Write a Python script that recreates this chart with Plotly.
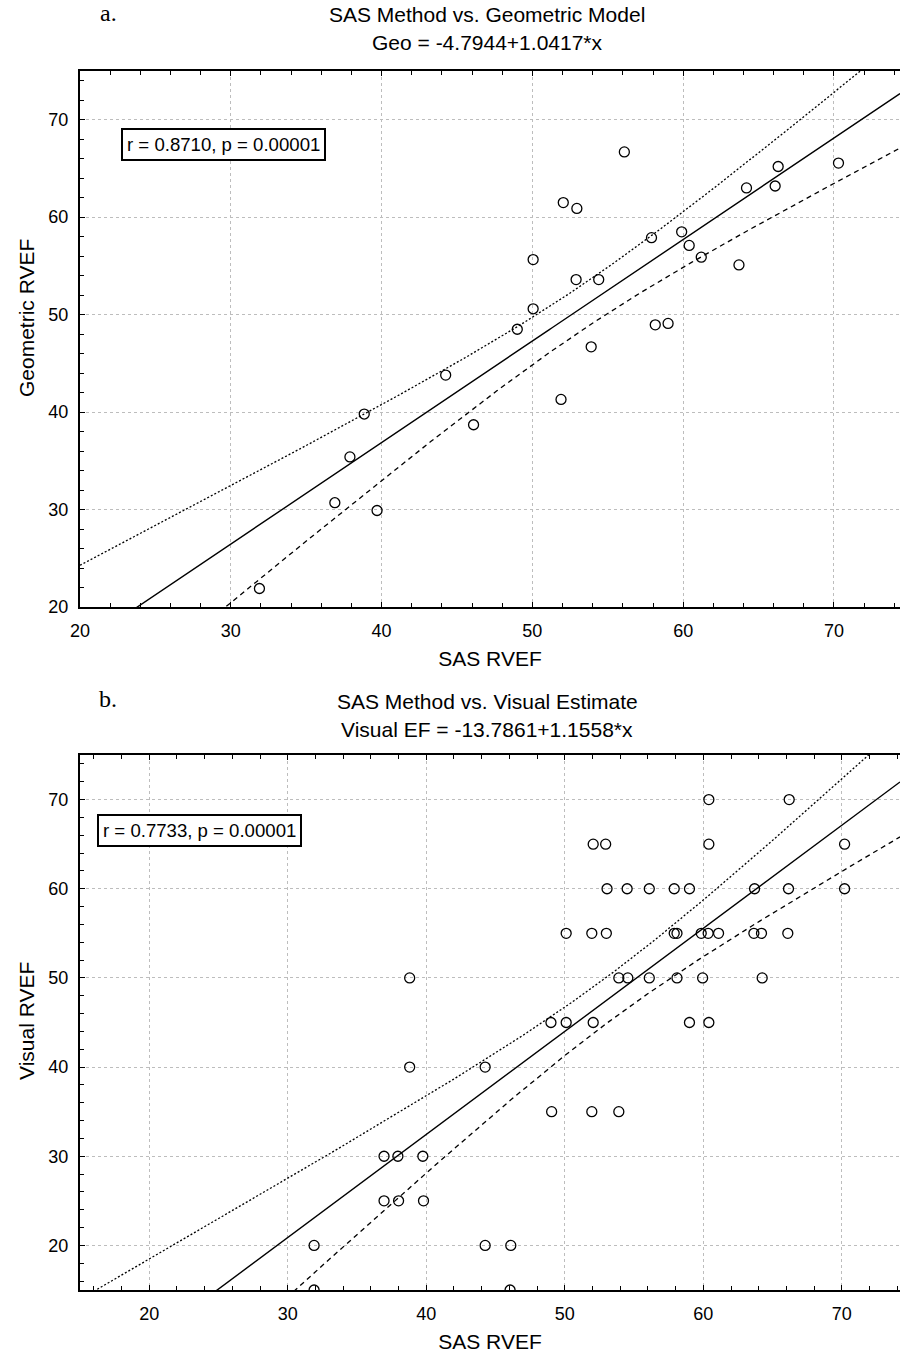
import numpy as np
import plotly.graph_objects as go

# ---- Panel a: SAS method vs. geometric model (RVEF, %) ----
sas_a = [31.9, 36.9, 37.9, 38.85, 39.7, 44.25, 46.1, 49.0, 50.05, 50.05,
         51.9, 52.05, 52.95, 52.9, 53.9, 54.4, 56.1, 57.9, 58.15, 59.0,
         59.9, 60.4, 61.2, 63.7, 64.2, 66.1, 66.3, 70.3]
geo_a = [21.9, 30.7, 35.4, 39.8, 29.9, 43.8, 38.7, 48.5, 50.6, 55.65,
         41.3, 61.5, 60.9, 53.6, 46.7, 53.6, 66.7, 57.9, 48.95, 49.1,
         58.5, 57.1, 55.9, 55.1, 63.0, 63.2, 65.2, 65.55]

# ---- Panel b: SAS method vs. visual estimate (RVEF, %) ----
sas_b = [60.4, 66.2,
         52.05, 52.95, 60.4, 70.2,
         53.05, 54.5, 56.1, 57.9, 59.0, 63.7, 66.15, 70.2,
         50.1, 51.95, 53.0, 57.9, 58.1, 59.85, 60.35, 61.1, 63.65, 64.2, 66.1,
         38.8, 53.9, 54.55, 56.1, 58.1, 59.95, 64.25,
         49.0, 50.1, 52.05, 59.0, 60.4,
         38.8, 44.25,
         49.05, 51.95, 53.9,
         36.95, 37.95, 39.75,
         36.95, 38.0, 39.8,
         31.9, 44.25, 46.1,
         31.9, 46.05]
vis_b = [70, 70,
         65, 65, 65, 65,
         60, 60, 60, 60, 60, 60, 60, 60,
         55, 55, 55, 55, 55, 55, 55, 55, 55, 55, 55,
         50, 50, 50, 50, 50, 50, 50,
         45, 45, 45, 45, 45,
         40, 40,
         35, 35, 35,
         30, 30, 30,
         25, 25, 25,
         20, 20, 20,
         15, 15]

# Reported regression coefficients (intercept, slope) and correlations
fit_a = (-4.7944, 1.0417)
fit_b = (-13.7861, 1.1558)
stat_a = "r = 0.8710, p = 0.00001"
stat_b = "r = 0.7733, p = 0.00001"

title_a = ("SAS Method vs. Geometric Model", "Geo = -4.7944+1.0417*x")
title_b = ("SAS Method vs. Visual Estimate", "Visual EF = -13.7861+1.1558*x")
ytitle_a = "Geometric RVEF"
ytitle_b = "Visual RVEF"
xtitle = "SAS RVEF"

range_a = dict(x=[20, 74.38], y=[20, 75])
range_b = dict(x=[15, 74.2], y=[15, 75])

W, H = 900, 1357


def t975(df):
    """Two-sided 95% Student t quantile (Cornish-Fisher expansion)."""
    z = 1.959964
    return (z + (z**3 + z) / (4 * df)
            + (5 * z**5 + 16 * z**3 + 3 * z) / (96 * df**2))


def conf_band(x, y, b0, b1, grid):
    """Fitted line and 95% confidence band of the mean response."""
    x = np.asarray(x, float)
    y = np.asarray(y, float)
    n = len(x)
    resid = y - (b0 + b1 * x)
    s = np.sqrt(np.sum(resid**2) / (n - 2))
    xbar = x.mean()
    sxx = np.sum((x - xbar) ** 2)
    fit = b0 + b1 * grid
    hw = t975(n - 2) * s * np.sqrt(1.0 / n + (grid - xbar) ** 2 / sxx)
    return fit, fit + hw, fit - hw


def px_y(py):
    return 1 - py / H


fig = go.Figure()

panels = [
    ("x", "y", sas_a, geo_a, fit_a, range_a),
    ("x2", "y2", sas_b, vis_b, fit_b, range_b),
]
for xa, ya, xs, ys, (b0, b1), rng in panels:
    grid = np.linspace(rng["x"][0], rng["x"][1], 300)
    fit, upper, lower = conf_band(xs, ys, b0, b1, grid)
    fig.add_trace(go.Scatter(x=grid, y=upper, mode="lines", xaxis=xa, yaxis=ya,
                             line=dict(color="black", width=1.3, dash="2px,2px")))
    fig.add_trace(go.Scatter(x=grid, y=lower, mode="lines", xaxis=xa, yaxis=ya,
                             line=dict(color="black", width=1.3, dash="5px,4px")))
    fig.add_trace(go.Scatter(x=grid, y=fit, mode="lines", xaxis=xa, yaxis=ya,
                             line=dict(color="black", width=1.4)))
    fig.add_trace(go.Scatter(x=xs, y=ys, mode="markers", xaxis=xa, yaxis=ya,
                             marker=dict(symbol="circle-open", size=10,
                                         color="black", line=dict(width=1.3))))

x_dom = [80 / W, 1.0]
dom_a = [px_y(607), px_y(71)]
dom_b = [px_y(1290), px_y(755)]


def axis(rng, dom, anchor, title=None):
    d = dict(
        range=rng, domain=dom, anchor=anchor,
        showline=True, linecolor="black", linewidth=2,
        ticks="inside", ticklen=5, tickwidth=1.3, tickcolor="black",
        tick0=0, dtick=10,
        minor=dict(dtick=2, ticks="inside", ticklen=4, tickwidth=1.2,
                   tickcolor="black", showgrid=False),
        showgrid=True, gridcolor="#bdbdbd", gridwidth=1, griddash="dot",
        zeroline=False, automargin=False,
        tickfont=dict(size=18, color="black"),
        ticklabelstandoff=6,
    )
    if title is not None:
        d["mirror"] = "ticks"
        d["title"] = dict(text=title, font=dict(size=21, color="black"), standoff=12)
    return d


fig.update_layout(
    width=W, height=H,
    margin=dict(l=0, r=0, t=0, b=0),
    paper_bgcolor="white", plot_bgcolor="white",
    showlegend=False,
    font=dict(family="Liberation Sans, Arial, sans-serif", color="black", size=18),
    xaxis=axis(range_a["x"], x_dom, "y", xtitle),
    yaxis=axis(range_a["y"], dom_a, "x"),
    xaxis2=axis(range_b["x"], x_dom, "y2", xtitle),
    yaxis2=axis(range_b["y"], dom_b, "x2"),
)

annotations = []
for (t1, t2), letter, y1, y2 in [(title_a, "a.", 15, 43), (title_b, "b.", 701, 729)]:
    annotations.append(dict(text=t1, x=487 / W, y=px_y(y1), xref="paper", yref="paper",
                            xanchor="center", yanchor="middle", showarrow=False,
                            font=dict(size=21)))
    annotations.append(dict(text=t2, x=487 / W, y=px_y(y2), xref="paper", yref="paper",
                            xanchor="center", yanchor="middle", showarrow=False,
                            font=dict(size=21)))
    annotations.append(dict(text=letter, x=108 / W, y=px_y(y1 - 2), xref="paper", yref="paper",
                            xanchor="center", yanchor="middle", showarrow=False,
                            font=dict(size=24, family="Liberation Serif, Times New Roman, serif")))

# Vertical axis titles
for text, yc in [(ytitle_a, 318), (ytitle_b, 1021)]:
    annotations.append(dict(text=text, x=26 / W, y=px_y(yc), xref="paper", yref="paper",
                            xanchor="center", yanchor="middle", showarrow=False,
                            textangle=-90, font=dict(size=21)))

for stat, xd, yd, xr, yr in [(stat_a, 0.05, 0.894, "x domain", "y domain"),
                             (stat_b, 0.0207, 0.8897, "x2 domain", "y2 domain")]:
    annotations.append(dict(text=stat, x=xd, y=yd, xref=xr, yref=yr,
                            xanchor="left", yanchor="top", showarrow=False,
                            bordercolor="black", borderwidth=2, borderpad=4,
                            bgcolor="white", font=dict(size=18.6)))

fig.update_layout(annotations=annotations)

fig.write_html("out.html")
